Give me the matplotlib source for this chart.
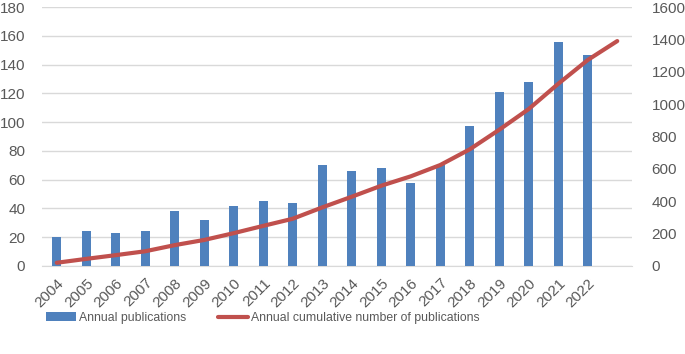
import matplotlib.pyplot as plt
import numpy as np

years = ['2004', '2005', '2006', '2007', '2008', '2009', '2010', '2011', '2012', '2013',
         '2014', '2015', '2016', '2017', '2018', '2019', '2020', '2021', '2022']
annual = [20, 24, 23, 24, 38, 32, 42, 45, 44, 70, 66, 68, 58, 70, 97, 121, 128, 156, 147]
# cumulative line has one more point past 2022
cumulative = [20, 44, 67, 91, 129, 161, 203, 248, 292, 362, 428, 496, 554, 624, 721,
              842, 970, 1126, 1273, 1390]

plt.rcParams['font.family'] = ['Liberation Sans', 'DejaVu Sans']
grey = '#595959'

fig = plt.figure(figsize=(6.85, 3.54), dpi=100)
ax = fig.add_axes([0.0613, 0.2486, 0.8613, 0.7314])
ax2 = ax.twinx()

x = np.arange(len(years))
bars = ax.bar(x, annual, width=0.32, color='#4f81bd', zorder=3, label='Annual publications')
line, = ax2.plot(np.arange(len(cumulative)), cumulative, color='#c0504d', lw=3,
                 solid_capstyle='round', label='Annual cumulative number of publications')

ax.set_xlim(-0.5, 19.5)
ax.set_ylim(0, 180)
ax.set_yticks(range(0, 181, 20))
ax2.set_ylim(0, 1600)
ax2.set_yticks(range(0, 1601, 200))
ax.grid(axis='y', color='#d9d9d9', lw=1, zorder=0)

ax.set_xticks(x)
ax.set_xticklabels(years, rotation=45, ha='right', va='top', rotation_mode='anchor')

for a in (ax, ax2):
    for s in a.spines.values():
        s.set_visible(False)
    a.tick_params(length=0, colors=grey, labelsize=11)
ax.spines['bottom'].set_visible(True)
ax.spines['bottom'].set_color('#d9d9d9')
ax.tick_params(axis='y', pad=12)
ax2.tick_params(axis='y', pad=14)
ax.tick_params(axis='x', pad=7)

fig.legend(handles=[bars, line], loc='center', bbox_to_anchor=(263 / 685, 1 - 318 / 354),
           ncol=2, frameon=False, fontsize=8.8, labelcolor=grey, handlelength=2.4,
           handleheight=0.8, columnspacing=2.6, handletextpad=0.3)

fig.savefig('out.png', dpi=100)
